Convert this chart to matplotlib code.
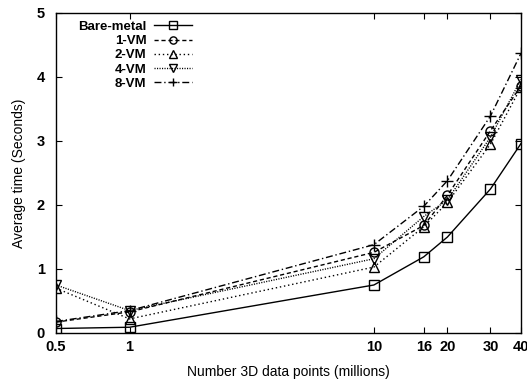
import matplotlib
matplotlib.use("Agg")
import matplotlib.pyplot as plt
from matplotlib.ticker import FixedLocator, FixedFormatter, NullLocator

plt.rcParams['font.family'] = ['Liberation Sans', 'DejaVu Sans']

# data sizes (millions of points) and average times in seconds
points = [0.5, 1, 10, 16, 20, 30, 40]
bare_metal = [0.07, 0.09, 0.75, 1.19, 1.50, 2.25, 2.96]
vm1 = [0.17, 0.33, 1.26, 1.68, 2.15, 3.16, 3.86]
vm2 = [0.70, 0.22, 1.03, 1.66, 2.04, 2.95, 3.84]
vm4 = [0.75, 0.35, 1.16, 1.82, 2.08, 3.06, 3.96]
vm8 = [0.18, 0.35, 1.38, 1.98, 2.38, 3.39, 4.37]

xticks = [0.5, 1, 10, 16, 20, 30, 40]
xticklabels = ['0.5', '1', '10', '16', '20', '30', '40']
yticks = [0, 1, 2, 3, 4, 5]

fig = plt.figure(figsize=(5.27, 3.81), dpi=100, facecolor='white')
ax = fig.add_axes([0.1063, 0.126, 0.8823, 0.8399])

common = dict(color='black', linewidth=1.0, markersize=6.5,
              markerfacecolor='none', markeredgewidth=1.0)
ax.plot(points, bare_metal, linestyle='-', marker='s', label='Bare-metal', **common)
ax.plot(points, vm1, linestyle=(0, (3, 2)), marker='o', label='1-VM', **common)
ax.plot(points, vm2, linestyle=(0, (1, 2)), marker='^', label='2-VM', **common)
ax.plot(points, vm4, linestyle=(0, (0.8, 1)), marker='v', label='4-VM', **common)
ax.plot(points, vm8, linestyle=(0, (5, 2, 1, 2)), marker='+', label='8-VM',
        **dict(common, markersize=8))

ax.set_xscale('log')
ax.set_xlim(0.5, 40)
ax.set_ylim(0, 5)
ax.xaxis.set_major_locator(FixedLocator(xticks))
ax.xaxis.set_major_formatter(FixedFormatter(xticklabels))
ax.xaxis.set_minor_locator(NullLocator())
ax.set_yticks(yticks)

ax.tick_params(direction='in', length=4, width=0.8, top=True, right=True,
               labelsize=10.5, pad=5)
ax.tick_params(axis='y', pad=8)
for lbl in ax.get_xticklabels() + ax.get_yticklabels():
    lbl.set_fontweight('bold')
for s in ax.spines.values():
    s.set_linewidth(1.0)

ax.set_xlabel('Number 3D data points (millions)', fontsize=10, labelpad=8)
ax.set_ylabel('Average time (Seconds)', fontsize=10, labelpad=8)

leg = ax.legend(loc='upper left', bbox_to_anchor=(0.03, 1.0), frameon=False,
                markerfirst=False, handlelength=2.9, handletextpad=0.6,
                labelspacing=0.17, fontsize=9.5, borderaxespad=0.2,
                handleheight=0.6, markerscale=0.8)
for t in leg.get_texts():
    t.set_fontweight('bold')

fig.savefig('out.png', dpi=100, facecolor='white')
